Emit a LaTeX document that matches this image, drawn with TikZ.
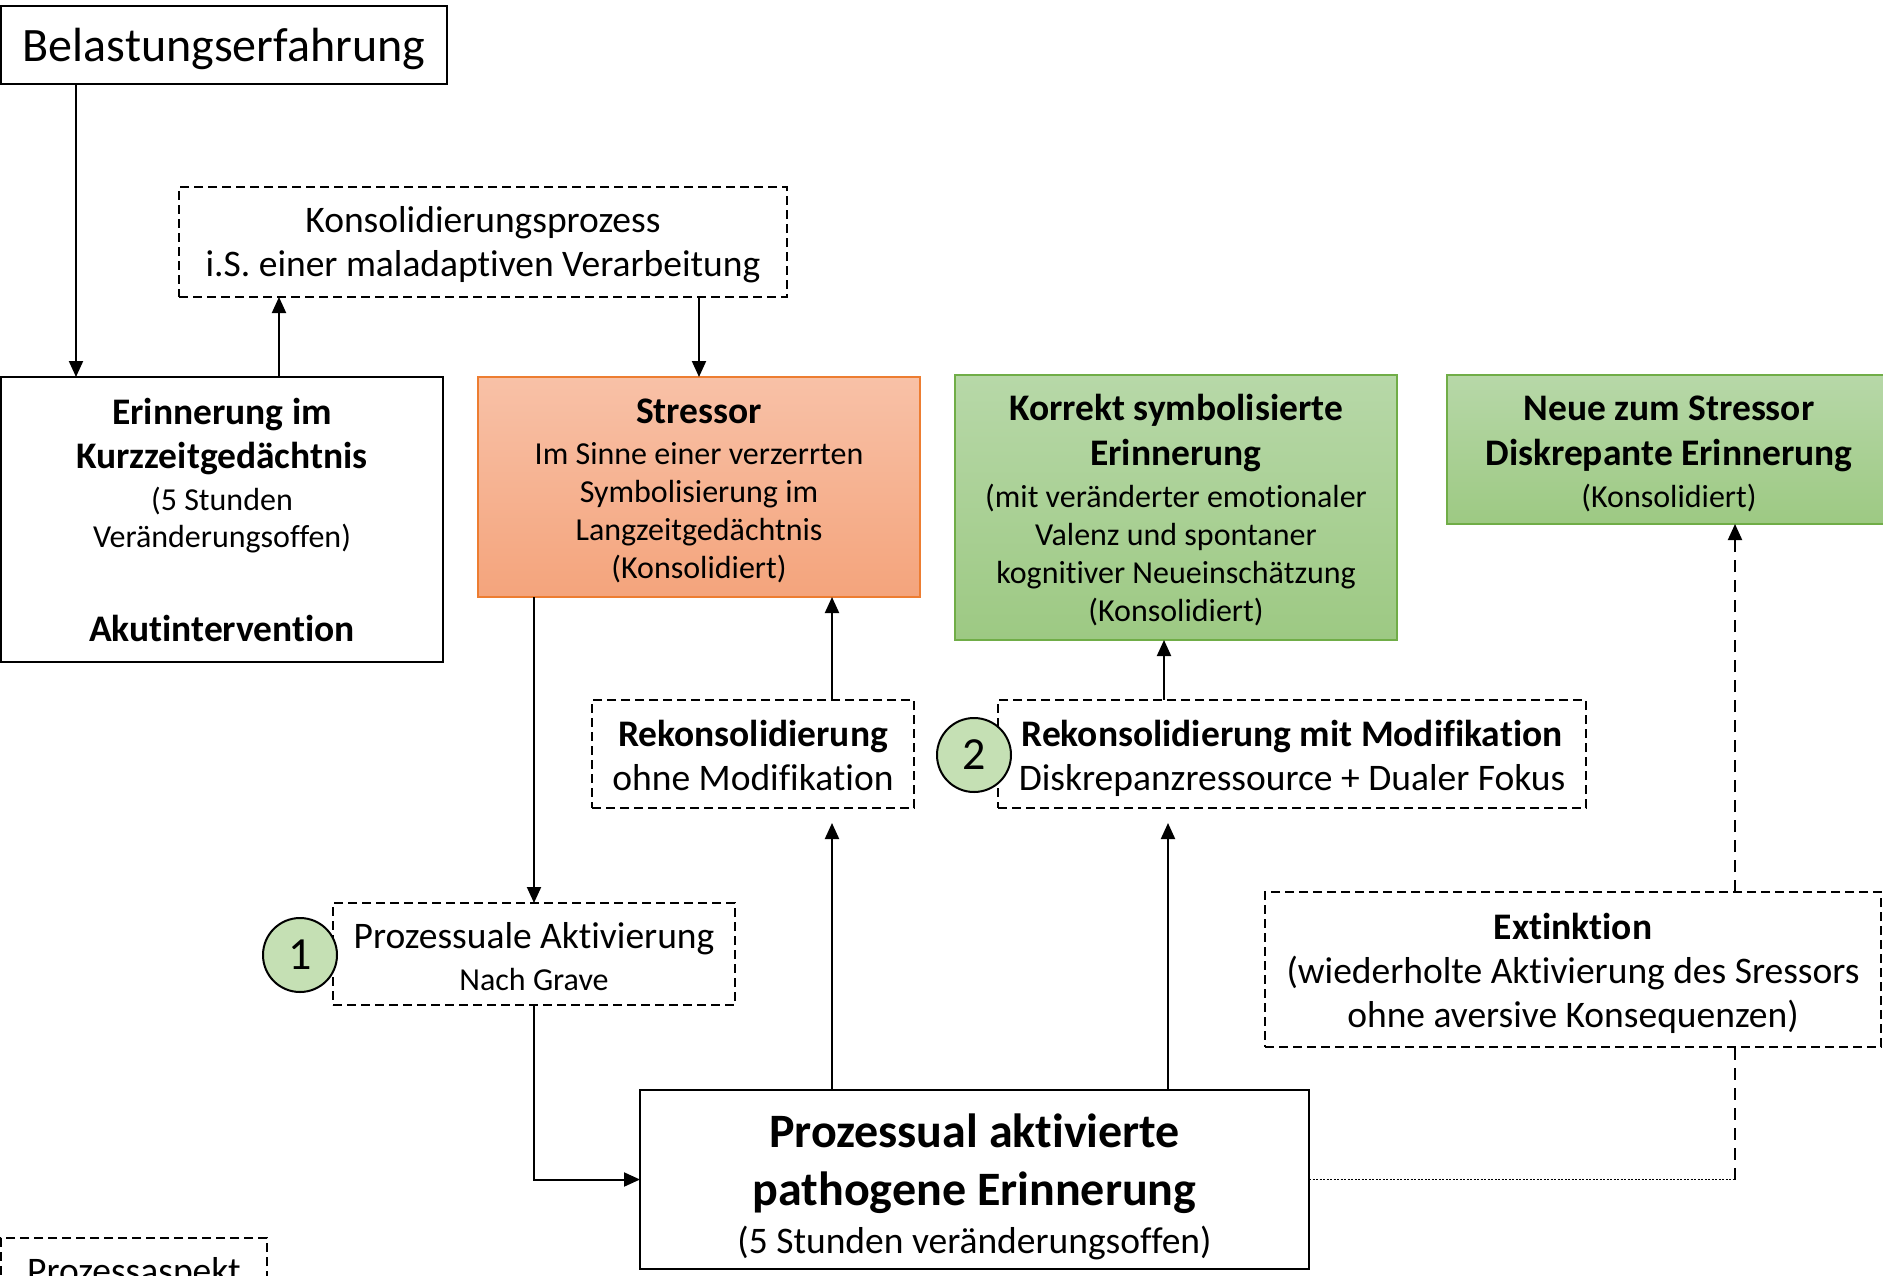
\documentclass[tikz,border=0pt]{standalone}
\usepackage{fontspec}
\setmainfont{Carlito}[Ligatures={NoCommon,NoContextual}]
\usetikzlibrary{arrows.meta,calc}
\definecolor{orbord}{RGB}{237,125,49}
\definecolor{ortop}{RGB}{248,193,167}
\definecolor{orbot}{RGB}{244,164,124}
\definecolor{grbord}{RGB}{112,173,71}
\definecolor{grtop}{RGB}{183,216,168}
\definecolor{grbot}{RGB}{157,201,131}
\definecolor{circfill}{RGB}{197,224,180}
\newcommand{\fsz}[2]{\fontsize{#1}{#2}\selectfont}
\newcommand{\bigb}{\bfseries\fsz{37.5}{44}}
\tikzset{
  box/.style={draw=black, line width=2pt, inner sep=0pt, outer sep=0pt},
  dbox/.style={box, dash pattern=on 9pt off 5pt},
  orbox/.style={box, draw=orbord, top color=ortop, bottom color=orbot},
  grbox/.style={box, draw=grbord, top color=grtop, bottom color=grbot},
  txt/.style={inner sep=0pt, outer sep=0pt, align=center},
  numcirc/.style={circle, draw=black, line width=2pt, fill=circfill, minimum size=74pt, inner sep=0pt, font=\fsz{46}{50}},
  conn/.style={line width=2pt, -{Triangle[length=16pt,width=14pt]}},
  dconn/.style={conn, dash pattern=on 12pt off 8pt},
  dotline/.style={line width=1.5pt, dash pattern=on 2pt off 1.5pt},
  dline/.style={line width=2pt, dash pattern=on 12pt off 8pt}
}
\begin{document}
\begin{tikzpicture}[x=1pt,y=-1pt]
\clip (0,0) rectangle (1883,1275);
\fill[white] (0,0) rectangle (1883,1275);

% column coordinates
\coordinate (cA) at (76,0);
\coordinate (cB) at (279,0);
\coordinate (cC) at (699,0);
\coordinate (cD) at (534,0);
\coordinate (cE) at (832,0);
\coordinate (cF) at (1164,0);
\coordinate (cG) at (1168,0);
\coordinate (cH) at (1735,0);

% boxes
\node[box, minimum width=446pt, minimum height=78pt] (belast) at (224,45) {};
\node[dbox, minimum width=608pt, minimum height=110pt] (konsol) at (483,242) {};
\node[box, minimum width=442pt, minimum height=285pt] (erinn) at (222,519.5) {};
\node[orbox, minimum width=442pt, minimum height=220pt] (stress) at (699,487) {};
\node[grbox, minimum width=442pt, minimum height=265pt] (korrekt) at (1176,507.5) {};
\node[grbox, minimum width=444pt, minimum height=149pt] (neue) at (1669,449.5) {};
\node[dbox, minimum width=322pt, minimum height=108pt] (rekon1) at (753,754) {};
\node[dbox, minimum width=588pt, minimum height=108pt] (rekon2) at (1292,754) {};
\node[dbox, minimum width=402pt, minimum height=102pt] (prozakt) at (534,954) {};
\node[box, minimum width=669pt, minimum height=179pt] (prozess) at (974.5,1179.5) {};
\node[dbox, minimum width=616pt, minimum height=155pt] (extink) at (1573,969.5) {};
\node[dbox, minimum width=266pt, minimum height=70pt] (aspekt) at (134,1273) {};

% texts
\node[txt, font=\fsz{48}{58}] (belast-t) at ([yshift=-4pt]belast.center) {Belastungserfahrung};
\node[txt, font=\fsz{37.5}{44}] (konsol-t) at ([yshift=-3pt]konsol.center)
  {Konsolidierungsprozess\\i.S. einer maladaptiven Verarbeitung};
\node[txt, font=\fsz{32}{37}] (erinn-t) at ([yshift=0pt]erinn.center)
  {{\bigb Erinnerung im}\\[7pt]{\bigb Kurzzeitgedächtnis}\\[5pt](5 Stunden\\Veränderungsoffen)\\[57pt]{\bigb Akutintervention}};
\node[txt, font=\fsz{32}{38}] (stress-t) at ([yshift=-3.6pt]stress.center)
  {{\bigb Stressor}\\[3pt]Im Sinne einer verzerrten\\Symbolisierung im\\Langzeitgedächtnis\\(Konsolidiert)};
\node[txt, font=\fsz{32}{38}] (korrekt-t) at ([yshift=-3pt]korrekt.center)
  {{\bigb Korrekt symbolisierte}\\[7pt]{\bigb Erinnerung}\\[4pt](mit veränderter emotionaler\\Valenz und spontaner\\kognitiver Neueinschätzung\\(Konsolidiert)};
\node[txt, font=\fsz{32}{38}] (neue-t) at ([yshift=-4.5pt]neue.center)
  {{\bigb Neue zum Stressor}\\[7pt]{\bigb Diskrepante Erinnerung}\\[4pt](Konsolidiert)};
\node[txt, font=\fsz{37.5}{44}] (rekon1-t) at ([yshift=-1pt]rekon1.center)
  {\textbf{Rekonsolidierung}\\ohne Modifikation};
\node[txt, font=\fsz{37.5}{44}] (rekon2-t) at ([yshift=-4pt]rekon2.center)
  {\textbf{Rekonsolidierung mit Modifikation}\\Diskrepanzressource + Dualer Fokus};
\node[txt, font=\fsz{37.5}{44}] (prozakt-t) at ([yshift=-2.5pt]prozakt.center)
  {Prozessuale Aktivierung\\[-2pt]{\fsz{32}{36}Nach Grave}};
\node[txt, font=\fsz{48}{58}] (prozess-t) at ([yshift=-7pt]prozess.center)
  {\textbf{Prozessual aktivierte}\\\textbf{pathogene Erinnerung}\\[-10pt]{\fsz{37.5}{44}(5 Stunden veränderungsoffen)}};
\node[txt, font=\fsz{37.5}{44}] (extink-t) at ([yshift=-4pt]extink.center)
  {\textbf{Extinktion}\\(wiederholte Aktivierung des Sressors\\ohne aversive Konsequenzen)};
\node[txt, font=\fsz{37.5}{44}] (aspekt-t) at (aspekt.center) {Prozessaspekt};

\node[numcirc] (c1) at (300,955) {1};
\node[numcirc] (c2) at (974,755) {2};

% connectors
\draw[conn] (belast.south -| cA) -- (erinn.north -| cA);
\draw[conn] (erinn.north -| cB) -- (konsol.south -| cB);
\draw[conn] (konsol.south -| cC) -- (stress.north -| cC);
\draw[conn] (stress.south -| cD) -- (prozakt.north -| cD);
\draw[conn] (rekon1.north -| cE) -- (stress.south -| cE);
\draw[conn] (prozess.north -| cE) -- ([yshift=-15pt]rekon1.south -| cE);
\draw[conn] (rekon2.north -| cF) -- (korrekt.south -| cF);
\draw[conn] (prozess.north -| cG) -- ([yshift=-15pt]rekon2.south -| cG);
\draw[conn] (prozakt.south -| cD) |- (prozess.west);
\draw[dconn] (extink.north -| cH) -- (neue.south -| cH);
\draw[dotline] (prozess.east) -- (prozess.east -| cH);
\draw[dline] (prozess.east -| cH) -- (extink.south -| cH);
\end{tikzpicture}
\end{document}
